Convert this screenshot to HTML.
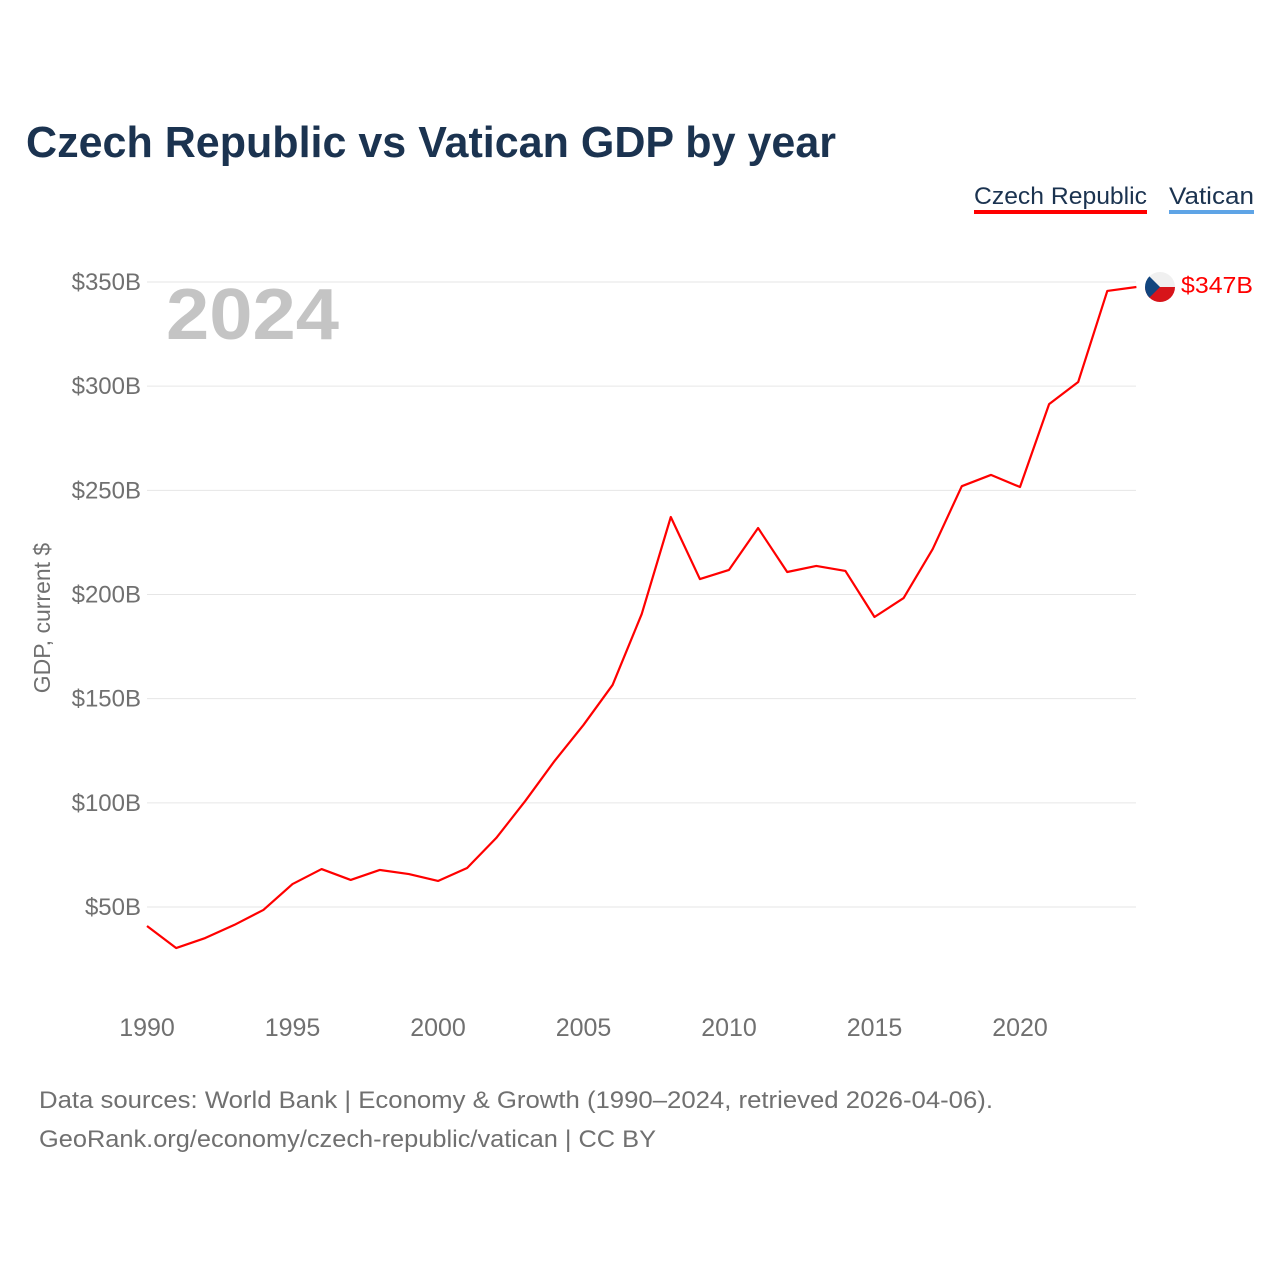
<!DOCTYPE html>
<html><head><meta charset="utf-8"><style>
body{margin:0;background:#fff;font-family:"Liberation Sans",sans-serif;}
svg{display:block}
</style></head><body>
<svg width="1280" height="1280" xmlns="http://www.w3.org/2000/svg">
<rect width="1280" height="1280" fill="#fff"/>
<text x="26" y="157" font-size="44" font-weight="bold" fill="#1b3350" textLength="810" lengthAdjust="spacingAndGlyphs">Czech Republic vs Vatican GDP by year</text>
<g>
<text x="974" y="204" font-size="24" fill="#1b3350" textLength="173" lengthAdjust="spacingAndGlyphs">Czech Republic</text>
<rect x="974" y="210" width="173" height="4" fill="#ff0000"/>
<text x="1169" y="204" font-size="24" fill="#1b3350" textLength="85" lengthAdjust="spacingAndGlyphs">Vatican</text>
<rect x="1169" y="210" width="85" height="4" fill="#5ea4e6"/>
</g>
<text x="166" y="339" font-size="72" font-weight="bold" fill="#c4c4c4" textLength="173" lengthAdjust="spacingAndGlyphs">2024</text>
<text transform="translate(50,618) rotate(-90)" text-anchor="middle" font-size="23" fill="#707070">GDP, current $</text>
<g id="grid"></g><g id="yt"></g><g id="xt"></g><g id="lines"></g>
<g>
<clipPath id="fc"><circle cx="1160" cy="287" r="15"/></clipPath>
<g clip-path="url(#fc)"><rect x="1145" y="272" width="30" height="15" fill="#f0f0f0"/><rect x="1145" y="287" width="30" height="15" fill="#d7141a"/><polygon points="1145,272 1160,287 1145,302" fill="#11457e"/></g>
<text x="1181" y="293" font-size="23" fill="#ff0000" textLength="72" lengthAdjust="spacingAndGlyphs">$347B</text>
</g>
<text x="39" y="1108" font-size="24" fill="#707070" textLength="954" lengthAdjust="spacingAndGlyphs">Data sources: World Bank | Economy &amp; Growth (1990–2024, retrieved 2026-04-06).</text>
<text x="39" y="1147" font-size="24" fill="#707070" textLength="617" lengthAdjust="spacingAndGlyphs">GeoRank.org/economy/czech-republic/vatican | CC BY</text>
</svg>
<script>
const years=[1990,1991,1992,1993,1994,1995,1996,1997,1998,1999,2000,2001,2002,2003,2004,2005,2006,2007,2008,2009,2010,2011,2012,2013,2014,2015,2016,2017,2018,2019,2020,2021,2022,2023,2024];
const czech=[40.9,30.3,35.1,41.4,48.6,61,68.2,63,67.8,65.8,62.5,68.7,83.1,100.9,120,137.4,156.6,190.6,237.2,207.4,211.8,231.9,210.8,213.7,211.3,189.2,198.3,221.8,252,257.4,251.6,291.4,302,345.7,347.6];
const yTicks=[50,100,150,200,250,300,350];
const xTicks=[1990,1995,2000,2005,2010,2015,2020];
const NS="http://www.w3.org/2000/svg";
const xS=y=>147+(y-1990)*29.1;
const yS=v=>907-(v-50)*(625/300);
function mk(t,a,p){const e=document.createElementNS(NS,t);for(const k in a)e.setAttribute(k,a[k]);p.appendChild(e);return e;}
const g=document.getElementById('grid'),yt=document.getElementById('yt'),xt=document.getElementById('xt'),ln=document.getElementById('lines');
yTicks.forEach(v=>{
const l=mk('line',{x1:147,x2:1136,y1:yS(v),y2:yS(v),stroke:'#e6e6e6','stroke-width':1},g);


const t=mk('text',{x:141,y:yS(v)+8,'text-anchor':'end','font-size':24,fill:'#707070'},yt);
t.textContent='$'+v+'B';


});
xTicks.forEach(v=>{
const t=mk('text',{x:xS(v),y:1036,'text-anchor':'middle','font-size':25,fill:'#707070'},xt);
t.textContent=v;


});
const p=mk('polyline',{points:years.map((y,i)=>xS(y)+','+yS(czech[i])).join(' '),fill:'none',stroke:'#ff0000','stroke-width':2.2,'stroke-linejoin':'round'},ln);


</script>
</body></html>
